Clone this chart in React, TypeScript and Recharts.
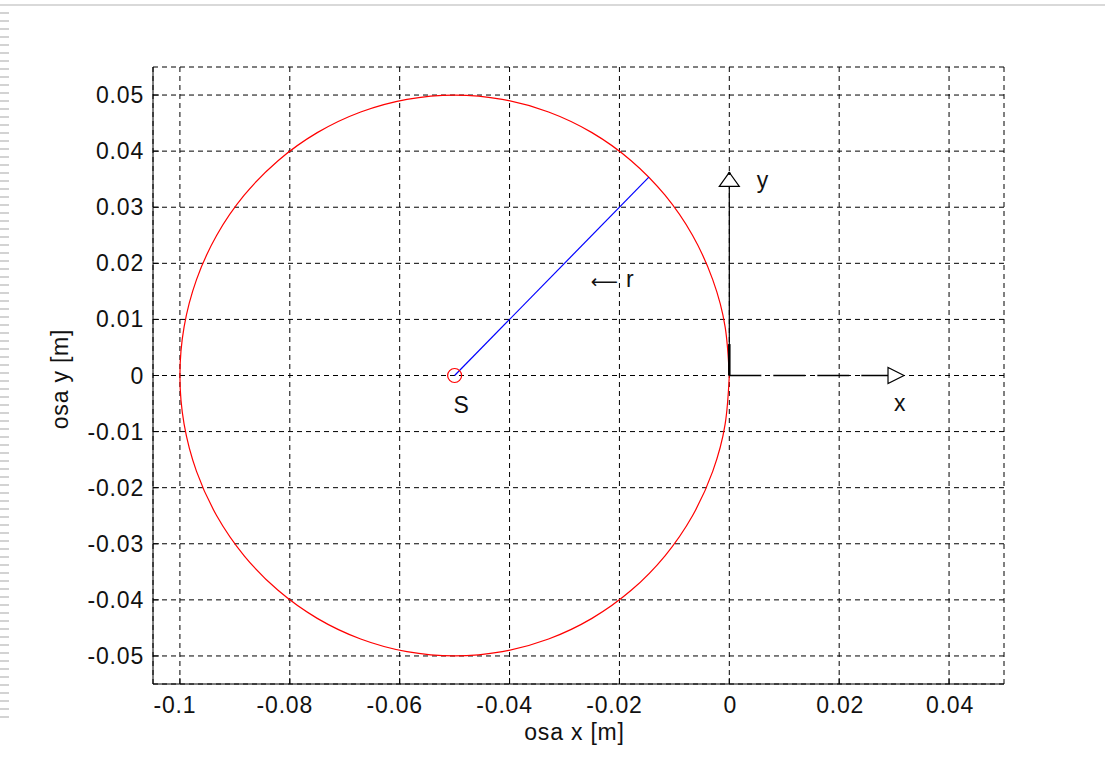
import React from 'react';
import { ComposedChart, Line, Scatter, XAxis, YAxis, CartesianGrid, Label } from 'recharts';

// ---- axis ticks ----
const xTicks = [-0.1, -0.08, -0.06, -0.04, -0.02, 0, 0.02, 0.04];
const xTickLabels = ['-0.1', '-0.08', '-0.06', '-0.04', '-0.02', '0', '0.02', '0.04'];
const yTicks = [-0.05, -0.04, -0.03, -0.02, -0.01, 0, 0.01, 0.02, 0.03, 0.04, 0.05];
const yTickLabels = ['-0.05', '-0.04', '-0.03', '-0.02', '-0.01', '0', '0.01', '0.02', '0.03', '0.04', '0.05'];
const xDomain = [-0.1049, 0.05];
const yDomain = [-0.055, 0.055];

// ---- red circle (trajectory of point), read every 10 degrees ----
const circleX = [0, -0.00076, -0.00302, -0.0067, -0.0117, -0.01786, -0.025, -0.0329, -0.04132, -0.05,
  -0.05868, -0.0671, -0.075, -0.08214, -0.0883, -0.0933, -0.09698, -0.09924, -0.1,
  -0.09924, -0.09698, -0.0933, -0.0883, -0.08214, -0.075, -0.0671, -0.05868, -0.05,
  -0.04132, -0.0329, -0.025, -0.01786, -0.0117, -0.0067, -0.00302, -0.00076, 0];
const circleY = [0, 0.00868, 0.0171, 0.025, 0.03214, 0.0383, 0.0433, 0.04698, 0.04924, 0.05,
  0.04924, 0.04698, 0.0433, 0.0383, 0.03214, 0.025, 0.0171, 0.00868, 0,
  -0.00868, -0.0171, -0.025, -0.03214, -0.0383, -0.0433, -0.04698, -0.04924, -0.05,
  -0.04924, -0.04698, -0.0433, -0.0383, -0.03214, -0.025, -0.0171, -0.00868, 0];

// ---- blue radius r ----
const radiusX = [-0.05, -0.01464];
const radiusY = [0, 0.03536];

// ---- centre S ----
const centerX = [-0.05];
const centerY = [0];

// ---- coordinate arrows ----
const yArrowX = [0, 0];
const yArrowY = [0, 0.0362];
const yArrowBaseX = [0, 0];
const yArrowBaseY = [0, 0.0056];
const xArrowX = [0, 0.0318];
const xArrowY = [0, 0];

// ---- annotation texts ----
const labelArrow = ['', '\u27F5', '', ''];
const labelText = ['S', 'r', 'y', 'x'];
const labelX = [-0.0502, -0.0252, 0.005, 0.03];
const labelY = [-0.0066, 0.0158, 0.0334, -0.0064];

const zip = (xs: number[], ys: number[]) => xs.map((x, i) => ({ x, y: ys[i] }));
const circleData = zip(circleX, circleY);
const radiusData = zip(radiusX, radiusY);
const centerData = zip(centerX, centerY);
const yArrowData = zip(yArrowX, yArrowY);
const yArrowBaseData = zip(yArrowBaseX, yArrowBaseY);
const xArrowData = zip(xArrowX, xArrowY);
const yHeadData = [yArrowData[1]];
const xHeadData = [xArrowData[1]];
const labelData = labelText.map((label, i) => ({ x: labelX[i], y: labelY[i], label, arrow: labelArrow[i] }));

const FONT = '"Liberation Sans", Arial, Helvetica, sans-serif';
const FS = 23;
const LS = 0.8;

const lookup = (v: number, ticks: number[], labels: string[]) => {
  const i = ticks.findIndex((t) => Math.abs(t - v) < 1e-9);
  return i >= 0 ? labels[i] : String(v);
};

const BottomTick = (props: any) => {
  const { x, y, payload } = props;
  const txt = lookup(payload.value, xTicks, xTickLabels);
  return (
    <g>
      <line x1={x} x2={x} y1={y} y2={y - 6} stroke="#000" strokeWidth={1} />
      <text x={x} dx={txt.startsWith('-') ? -5 : 1} y={y + 29} textAnchor="middle" fontFamily={FONT} fontSize={FS} letterSpacing={LS} fill="#111">
        {txt}
      </text>
    </g>
  );
};
const TopTick = (props: any) => {
  const { x, y } = props;
  return <line x1={x} x2={x} y1={y} y2={y + 6} stroke="#000" strokeWidth={1} />;
};
const LeftTick = (props: any) => {
  const { x, y, payload } = props;
  return (
    <g>
      <line x1={x} x2={x + 6} y1={y} y2={y} stroke="#000" strokeWidth={1} />
      <text x={x - 9} y={y + 8} textAnchor="end" fontFamily={FONT} fontSize={FS} letterSpacing={LS} fill="#111">
        {lookup(payload.value, yTicks, yTickLabels)}
      </text>
    </g>
  );
};
const RightTick = (props: any) => {
  const { x, y } = props;
  return <line x1={x} x2={x - 6} y1={y} y2={y} stroke="#000" strokeWidth={1} />;
};

const UpHead = (p: any) => (
  <g>
    <polygon points={`${p.cx},${p.cy} ${p.cx - 10},${p.cy + 14} ${p.cx + 10},${p.cy + 14}`} fill="#fff" stroke="#000" strokeWidth={1.2} />
    <circle cx={p.cx} cy={p.cy + 1} r={1.5} fill="#000" />
  </g>
);
const RightHead = (p: any) => (
  <g>
    <polygon points={`${p.cx},${p.cy} ${p.cx - 16},${p.cy - 8} ${p.cx - 16},${p.cy + 8}`} fill="#fff" stroke="#000" strokeWidth={1.2} />
  </g>
);
const CenterMark = (p: any) => <circle cx={p.cx} cy={p.cy} r={7} fill="none" stroke="#ff0000" strokeWidth={1.2} />;
const TextMark = (p: any) => (
  <text x={p.cx} y={p.cy} fontFamily={FONT} fontSize={FS} letterSpacing={LS} fill="#111">
    {p.payload.arrow ? (
      <tspan fontFamily='"DejaVu Sans", sans-serif' fontSize={19} letterSpacing={0} dy={1}>
        {p.payload.arrow}
      </tspan>
    ) : null}
    <tspan fontFamily={FONT} fontSize={FS} dx={p.payload.arrow ? 8 : 0} dy={p.payload.arrow ? -1 : 0}>
      {p.payload.label}
    </tspan>
  </text>
);

export default function App() {
  return (
    <div style={{ position: 'absolute', left: 0, top: 0, width: 1105, height: 763, background: '#fff', overflow: 'hidden' }}>
      <div style={{ position: 'absolute', left: 0, top: 4, width: 1105, height: 2, background: '#d9d9d9' }} />
      <div
        style={{
          position: 'absolute', left: 0, top: 12, width: 9, height: 712,
          backgroundImage: 'repeating-linear-gradient(to bottom, #d3d3d3 0px, #d3d3d3 2px, transparent 2px, transparent 8px)',
        }}
      />
      <div style={{ position: 'absolute', left: 0, top: 0 }}>
        <ComposedChart width={1105} height={763} margin={{ top: 67, right: 101, bottom: 0, left: 0 }}>
          <CartesianGrid stroke="#000" strokeDasharray="5 4" strokeWidth={1} />
          <XAxis
            xAxisId={0}
            type="number"
            dataKey="x"
            domain={xDomain}
            ticks={xTicks}
            interval={0}
            allowDataOverflow
            height={79}
            tickLine={false}
            tickSize={0}
            tickMargin={0}
            axisLine={{ stroke: '#000', strokeWidth: 1 }}
            tick={<BottomTick />}
          >
            <Label
              content={(p: any) => {
                const vb = p.viewBox;
                return (
                  <text x={vb.x + vb.width / 2 - 4} y={vb.y + 56} textAnchor="middle" fontFamily={FONT} fontSize={FS} letterSpacing={LS} fill="#111">
                    osa x [m]
                  </text>
                );
              }}
            />
          </XAxis>
          <XAxis
            xAxisId="top"
            orientation="top"
            type="number"
            dataKey="x"
            domain={xDomain}
            ticks={xTicks}
            interval={0}
            allowDataOverflow
            height={0}
            tickLine={false}
            tickSize={0}
            tickMargin={0}
            axisLine={{ stroke: '#000', strokeWidth: 1 }}
            tick={<TopTick />}
          >
            <Label
              content={(p: any) => {
                const vb = p.viewBox;
                return (
                  <text x={vb.x + vb.width / 2 - 4.5} y={vb.y - 17.5} textAnchor="middle" fontFamily={FONT} fontSize={FS} letterSpacing={LS} fill="#111">
                    Poloha bodu S v rovine xy
                  </text>
                );
              }}
            />
          </XAxis>
          <YAxis
            yAxisId={0}
            type="number"
            dataKey="y"
            domain={yDomain}
            ticks={yTicks}
            interval={0}
            allowDataOverflow
            width={153}
            tickLine={false}
            tickSize={0}
            tickMargin={0}
            axisLine={{ stroke: '#000', strokeWidth: 1 }}
            tick={<LeftTick />}
          >
            <Label
              content={(p: any) => {
                const vb = p.viewBox;
                const cx = vb.x + 68;
                const cy = vb.y + vb.height / 2 + 3.5;
                return (
                  <text x={cx} y={cy} transform={`rotate(-90 ${cx} ${cy})`} textAnchor="middle" fontFamily={FONT} fontSize={FS} letterSpacing={LS} fill="#111">
                    osa y [m]
                  </text>
                );
              }}
            />
          </YAxis>
          <YAxis
            yAxisId="right"
            orientation="right"
            type="number"
            dataKey="y"
            domain={yDomain}
            ticks={yTicks}
            interval={0}
            allowDataOverflow
            width={0}
            tickLine={false}
            tickSize={0}
            tickMargin={0}
            axisLine={{ stroke: '#000', strokeWidth: 1 }}
            tick={<RightTick />}
          />

          <Line data={circleData} dataKey="y" type="natural" stroke="#ff0000" strokeWidth={1.2} dot={false} activeDot={false} isAnimationActive={false} />
          <Line data={radiusData} dataKey="y" type="linear" stroke="#0000ff" strokeWidth={1.2} dot={false} activeDot={false} isAnimationActive={false} />
          <Scatter data={yHeadData} dataKey="y" shape={UpHead} isAnimationActive={false} />
          <Scatter data={xHeadData} dataKey="y" shape={RightHead} isAnimationActive={false} />
          <Line data={yArrowData} dataKey="y" type="linear" stroke="#000" strokeWidth={1.2} dot={false} activeDot={false} isAnimationActive={false} />
          <Line data={yArrowBaseData} dataKey="y" type="linear" stroke="#000" strokeWidth={2.5} dot={false} activeDot={false} isAnimationActive={false} />
          <Line data={xArrowData} dataKey="y" type="linear" stroke="#000" strokeWidth={1.5} strokeDasharray="32 12" dot={false} activeDot={false} isAnimationActive={false} />
          <Scatter data={centerData} dataKey="y" shape={CenterMark} isAnimationActive={false} />
          <Scatter data={labelData} dataKey="y" shape={TextMark} isAnimationActive={false} />
        </ComposedChart>
      </div>
    </div>
  );
}
